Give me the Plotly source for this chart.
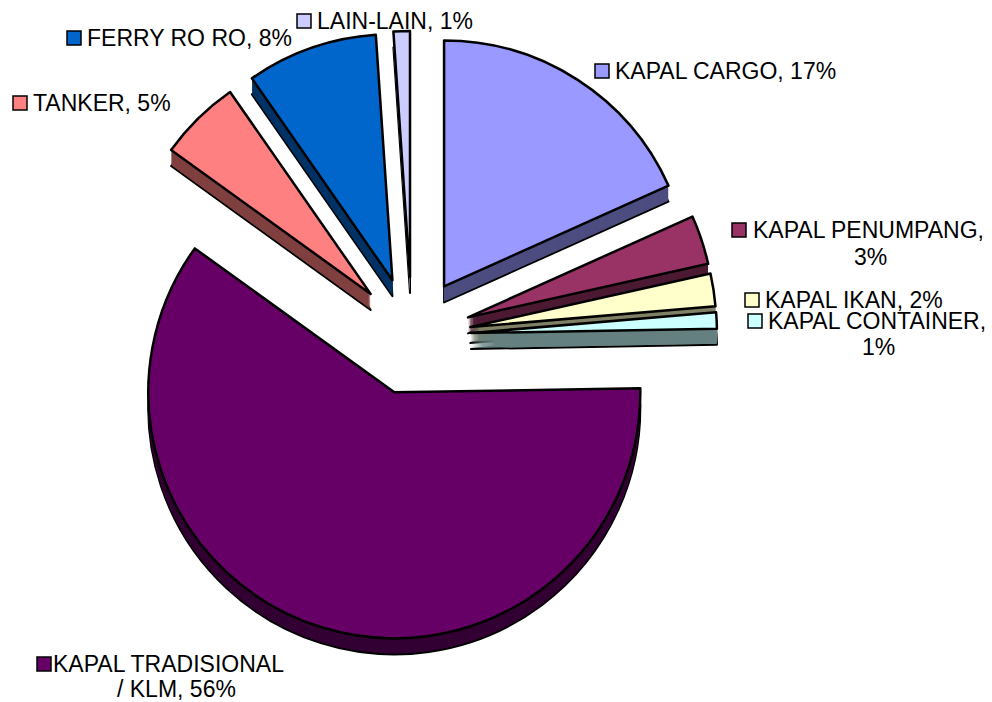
import plotly.graph_objects as go

# ---------------- data ----------------
categories = ["KAPAL CARGO", "KAPAL PENUMPANG", "KAPAL IKAN", "KAPAL CONTAINER",
              "KAPAL TRADISIONAL / KLM", "TANKER", "FERRY RO RO", "LAIN-LAIN"]
percent_values = [17, 3, 2, 1, 56, 5, 8, 1]

top_colors = ["#9999FF", "#993366", "#FFFFCC", "#CCFFFF",
              "#660066", "#FF8080", "#0066CC", "#CCCCFF"]
side_colors = ["#4D4D80", "#4D1A33", "#808066", "#668080",
               "#330033", "#804040", "#003366", "#666680"]

# ---------------- layout helpers ----------------
W, H = 992, 702
PULL = 0.24
R_PIE = 246          # pie radius in px
CX, CY = 412, 336    # pie centre in px (top face)
DEPTH = 16           # px thickness of the fake 3D side

def domain_for(shift_px):
    half = R_PIE * (1 + PULL)
    x0 = (CX - half) / W
    x1 = (CX + half) / W
    cy = CY + shift_px
    y0 = 1 - (cy + half) / H
    y1 = 1 - (cy - half) / H
    return dict(x=[x0, x1], y=[y0, y1])

fig = go.Figure()

def add_pie(shift, colors, line_w):
    fig.add_trace(go.Pie(
        labels=categories, values=percent_values, sort=False,
        direction="clockwise", rotation=0,
        pull=[PULL] * len(categories),
        marker=dict(colors=colors, line=dict(color="black", width=line_w)),
        textinfo="none", hoverinfo="skip", showlegend=False,
        domain=domain_for(shift),
    ))

# bottom of the extrusion with an outline, then the filled body, then top face
add_pie(DEPTH, side_colors, 2)
for k in range(DEPTH - 1, 0, -1):
    add_pie(k, side_colors, 0)
add_pie(0, top_colors, 2.5)

# ---------------- labels ----------------
def label_lines(name, v):
    if name == "KAPAL TRADISIONAL / KLM":
        return ["KAPAL TRADISIONAL", f"/ KLM, {v}%"]
    if name in ("KAPAL PENUMPANG", "KAPAL CONTAINER"):
        return [f"{name},", f"{v}%"]
    return [f"{name}, {v}%"]

# key square left x, centre y, first-line text x, (second line centre x, y)
label_pos = {
    "KAPAL CARGO":             (595, 71, 613, None),
    "KAPAL PENUMPANG":         (732, 230, 751, (870, 257)),
    "KAPAL IKAN":              (745, 300, 763, None),
    "KAPAL CONTAINER":         (748, 321, 766, (878, 347)),
    "KAPAL TRADISIONAL / KLM": (37, 664, 51, (176, 689)),
    "TANKER":                  (13, 103, 31, None),
    "FERRY RO RO":             (67, 38, 85, None),
    "LAIN-LAIN":               (297, 21, 315, None),
}

FONT = dict(family="Liberation Sans, Arial, sans-serif", size=23, color="black")
SQ = 14
shapes = []
annotations = []
for name, v, col in zip(categories, percent_values, top_colors):
    sx, sy, tx, second = label_pos[name]
    lines = label_lines(name, v)
    shapes.append(dict(type="rect", xref="paper", yref="paper",
                       x0=sx / W, x1=(sx + SQ) / W,
                       y0=1 - (sy + SQ / 2) / H, y1=1 - (sy - SQ / 2) / H,
                       fillcolor=col, line=dict(color="black", width=1.5)))
    annotations.append(dict(text=lines[0], xref="paper", yref="paper",
                            x=tx / W, y=1 - sy / H, xanchor="left", yanchor="middle",
                            showarrow=False, font=FONT))
    if second is not None:
        annotations.append(dict(text=lines[1], xref="paper", yref="paper",
                                x=second[0] / W, y=1 - second[1] / H,
                                xanchor="center", yanchor="middle",
                                showarrow=False, font=FONT))

fig.update_layout(
    width=W, height=H,
    margin=dict(l=0, r=0, t=0, b=0),
    paper_bgcolor="white", plot_bgcolor="white",
    shapes=shapes, annotations=annotations,
)

fig.write_html("out.html", config={"displayModeBar": False},
               post_script="document.body.style.margin='0px';")
